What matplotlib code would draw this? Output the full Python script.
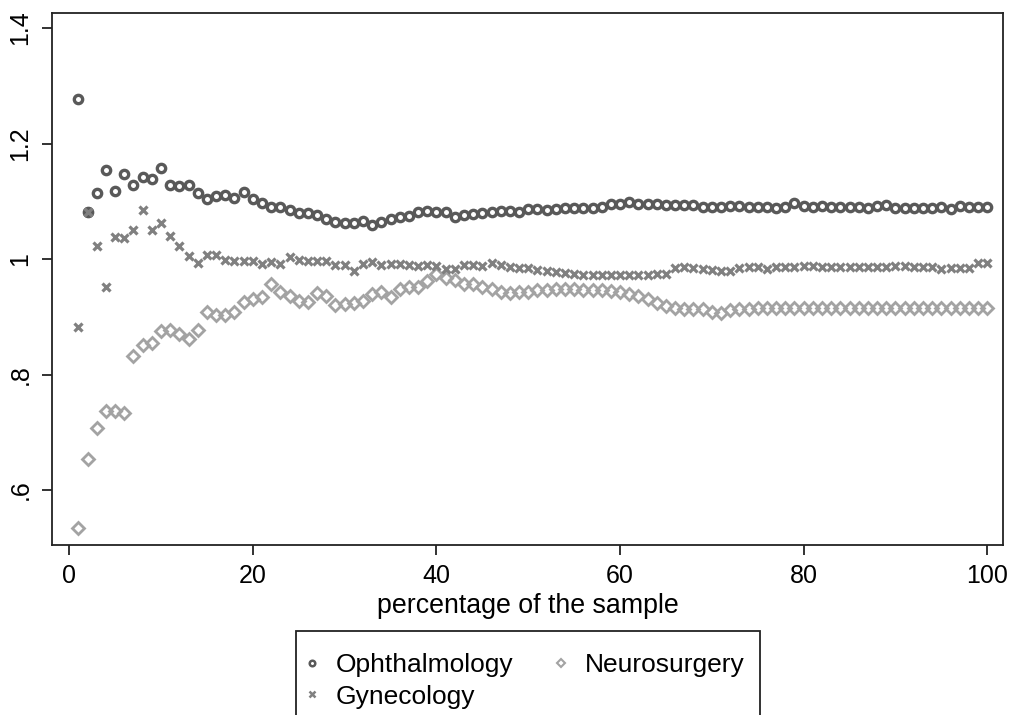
import numpy as np
import matplotlib
matplotlib.use("Agg")
import matplotlib.pyplot as plt
from matplotlib.patches import Rectangle
from matplotlib.lines import Line2D

plt.rcParams['font.family'] = ['Liberation Sans', 'DejaVu Sans']

# percentage of the sample (1..100)
pct = list(range(1, 101))

ophthalmology = [
    1.277, 1.081, 1.114, 1.154, 1.118, 1.147, 1.128, 1.142, 1.138, 1.158,
    1.129, 1.126, 1.129, 1.115, 1.104, 1.109, 1.111, 1.105, 1.116, 1.104,
    1.097, 1.091, 1.091, 1.085, 1.080, 1.080, 1.076, 1.070, 1.064, 1.062,
    1.062, 1.066, 1.059, 1.065, 1.069, 1.073, 1.074, 1.081, 1.084, 1.081,
    1.081, 1.072, 1.077, 1.078, 1.080, 1.081, 1.083, 1.083, 1.081, 1.086,
    1.086, 1.085, 1.086, 1.089, 1.088, 1.089, 1.088, 1.090, 1.095, 1.095,
    1.099, 1.095, 1.095, 1.095, 1.093, 1.093, 1.094, 1.093, 1.091, 1.091,
    1.091, 1.092, 1.092, 1.091, 1.091, 1.091, 1.088, 1.091, 1.097, 1.092,
    1.091, 1.092, 1.091, 1.091, 1.091, 1.090, 1.088, 1.092, 1.093, 1.089,
    1.088, 1.089, 1.089, 1.089, 1.090, 1.087, 1.092, 1.091, 1.091, 1.091,
]

gynecology = [
    0.883, 1.081, 1.022, 0.952, 1.039, 1.036, 1.050, 1.085, 1.051, 1.062,
    1.040, 1.022, 1.005, 0.994, 1.007, 1.007, 0.998, 0.996, 0.996, 0.997,
    0.992, 0.995, 0.991, 1.003, 0.999, 0.997, 0.996, 0.997, 0.990, 0.990,
    0.980, 0.991, 0.995, 0.989, 0.992, 0.991, 0.990, 0.988, 0.990, 0.988,
    0.983, 0.982, 0.989, 0.989, 0.988, 0.993, 0.990, 0.987, 0.985, 0.984,
    0.981, 0.980, 0.978, 0.976, 0.975, 0.973, 0.972, 0.972, 0.973, 0.972,
    0.972, 0.973, 0.973, 0.974, 0.975, 0.985, 0.986, 0.985, 0.983, 0.981,
    0.979, 0.980, 0.984, 0.986, 0.987, 0.982, 0.987, 0.987, 0.987, 0.988,
    0.988, 0.987, 0.986, 0.986, 0.986, 0.986, 0.986, 0.987, 0.987, 0.988,
    0.988, 0.987, 0.987, 0.986, 0.982, 0.984, 0.985, 0.985, 0.993, 0.993,
]

neurosurgery = [
    0.535, 0.654, 0.707, 0.737, 0.737, 0.734, 0.832, 0.851, 0.854, 0.875,
    0.877, 0.871, 0.861, 0.877, 0.909, 0.904, 0.904, 0.909, 0.926, 0.930,
    0.934, 0.957, 0.943, 0.936, 0.928, 0.926, 0.941, 0.936, 0.920, 0.923,
    0.924, 0.928, 0.939, 0.943, 0.935, 0.948, 0.951, 0.951, 0.962, 0.974,
    0.968, 0.964, 0.957, 0.957, 0.952, 0.948, 0.943, 0.942, 0.943, 0.943,
    0.946, 0.947, 0.949, 0.949, 0.949, 0.947, 0.946, 0.946, 0.944, 0.943,
    0.940, 0.936, 0.930, 0.924, 0.919, 0.916, 0.914, 0.914, 0.913, 0.909,
    0.906, 0.912, 0.913, 0.914, 0.915, 0.916, 0.916, 0.916, 0.916, 0.916,
    0.916, 0.916, 0.916, 0.916, 0.916, 0.916, 0.916, 0.916, 0.916, 0.916,
    0.916, 0.916, 0.916, 0.916, 0.916, 0.916, 0.916, 0.916, 0.916, 0.916,
]

xticks = [0, 20, 40, 60, 80, 100]
yticks = [0.6, 0.8, 1.0, 1.2, 1.4]
ytick_labels = ['.6', '.8', '1', '1.2', '1.4']

fig = plt.figure(figsize=(10.13, 7.15), dpi=100)
ax = fig.add_axes([0.0513, 0.2378, 0.9387, 0.744])

ax.plot(pct, ophthalmology, 'o', ms=6, mew=2.4, mfc='none', mec='#595959', zorder=3)
ax.plot(pct, neurosurgery, 'D', ms=6.2, mew=2.0, mfc='none', mec='#a3a3a3', zorder=3)
ax.plot(pct, gynecology, 'x', ms=5.2, mew=2.3, color='#808080', zorder=4)

ax.set_xlim(-1.88, 101.7)
ax.set_ylim(0.505, 1.426)
ax.set_xticks(xticks)
ax.set_yticks(yticks)
ax.set_yticklabels(ytick_labels, rotation=90, va='center')
ax.tick_params(axis='both', labelsize=18, length=7, width=1.3, color='#222222')
ax.tick_params(axis='x', pad=7)
ax.tick_params(axis='y', pad=7)
for s in ax.spines.values():
    s.set_linewidth(1.3)
    s.set_color('#222222')

ax.set_xlabel('percentage of the sample', fontsize=19.3, labelpad=3)

# legend: smaller marker versions of the series
leg_oph = Line2D([], [], ls='none', marker='o', ms=4, mew=1.8, mfc='none', mec='#595959')
leg_gyn = Line2D([], [], ls='none', marker='x', ms=4, mew=1.8, color='#808080')
leg_neu = Line2D([], [], ls='none', marker='D', ms=4.2, mew=1.5, mfc='none', mec='#a3a3a3')

# legend box (runs past the bottom edge like the original)
fig.patches.append(Rectangle((296 / 1013, -0.05), (760 - 296) / 1013, 0.05 + (715 - 631) / 715,
                             transform=fig.transFigure, fill=False, lw=1.3,
                             edgecolor='#222222'))
fig.legend([leg_oph, leg_gyn, leg_neu], ['Ophthalmology', 'Gynecology', 'Neurosurgery'],
           ncol=2, loc='upper left', bbox_to_anchor=(285.5 / 1013, 1 - 640 / 715),
           frameon=False, fontsize=19, handlelength=1.0, handletextpad=0.4,
           columnspacing=1.3, labelspacing=0.28, borderpad=0)

fig.savefig('out.png', dpi=100)
